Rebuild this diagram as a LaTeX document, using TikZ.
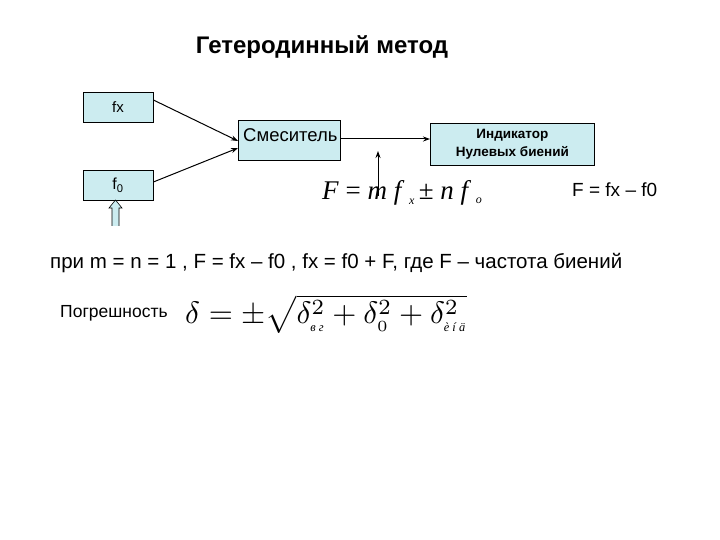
\documentclass[tikz,border=0pt]{standalone}
\usepackage{fontspec}
\usepackage{graphicx}
\setmainfont{Liberation Sans}
\newfontfamily\serifit{Liberation Serif}[ItalicFont=* Italic]
\usetikzlibrary{arrows.meta}
\definecolor{boxc}{RGB}{204,236,240}
\tikzset{
 blk/.style={draw=black,fill=boxc,line width=0.8pt,inner sep=0pt},
 con/.style={-{Stealth[length=7pt,width=5pt]},line width=1pt}
}
\newcommand{\subcyr}[1]{\hbox{\serifit\fontsize{4}{5}\selectfont\itshape #1}}
\begin{document}
\begin{tikzpicture}[x=1pt,y=-1pt]
\useasboundingbox (0,0) rectangle (720,540);
\node[font=\bfseries\fontsize{24}{28}\selectfont] (title) at (322,47) {Гетеродинный метод};
\node[blk,minimum width=70pt,minimum height=30pt,font=\fontsize{15}{16}\selectfont] (fx) at (118,107) {fx};
\node[blk,minimum width=70pt,minimum height=30pt,font=\fontsize{16}{16}\selectfont] (f0) at (118,185) {f\textsubscript{0}};
\node[blk,minimum width=102pt,minimum height=40pt,anchor=north west] (mix) at (238,120) {};
\node[font=\fontsize{18.5}{20}\selectfont,anchor=north west,inner sep=0pt] (mixt) at (243,128) {Смеситель};
\node[blk,minimum width=164pt,minimum height=42pt,anchor=north west,align=center,font=\bfseries\fontsize{13.5}{18}\selectfont] (ind) at (430,123) {Индикатор\\Нулевых биений};
\draw[con] (fx.east) ++(0,-7) coordinate (a1) -- (238,141);
\draw[con] (f0.east) ++(0,-3) coordinate (a2) -- (238,148);
\draw[con] (340,139) coordinate (m1) -- (m1 -| ind.west);
\coordinate (u1) at (378,196);
\draw[con] (u1) -- (378,151);
\draw[line width=0.6pt,fill=boxc] (112,226) -- (112,208) -- (109,208) -- (115.5,200) -- (122,208) -- (119,208) -- (119,226);
\node[font=\serifit\fontsize{27}{30}\selectfont,anchor=west,inner sep=0pt] (form) at (322,193) {\textit{F} = \textit{m f}\,\raisebox{-5pt}{\fontsize{12}{12}\selectfont\textit{x}}\,± \textit{n f}\,\raisebox{-4pt}{\fontsize{12}{12}\selectfont\textit{o}}};
\node[font=\fontsize{19}{20}\selectfont,anchor=west,inner sep=0pt] (ff) at (572,190) {F = fx – f0};
\node[font=\fontsize{20.5}{22}\selectfont,anchor=west,inner sep=0pt] (line) at (50,263) {при m = n = 1 , F = fx – f0 , fx = f0 + F, где F – частота биений};
\node[font=\fontsize{17.5}{20}\selectfont,anchor=west,inner sep=0pt] (pog) at (60,313) {Погрешность};
\node[anchor=west,inner sep=0pt] (err) at (185,314) {\scalebox{3.1}{$\delta=\pm\sqrt{\delta^2_{\subcyr{в г}}+\delta^2_{\scriptscriptstyle 0}+\delta^2_{\subcyr{è í ä}}}$}};
\end{tikzpicture}
\end{document}
